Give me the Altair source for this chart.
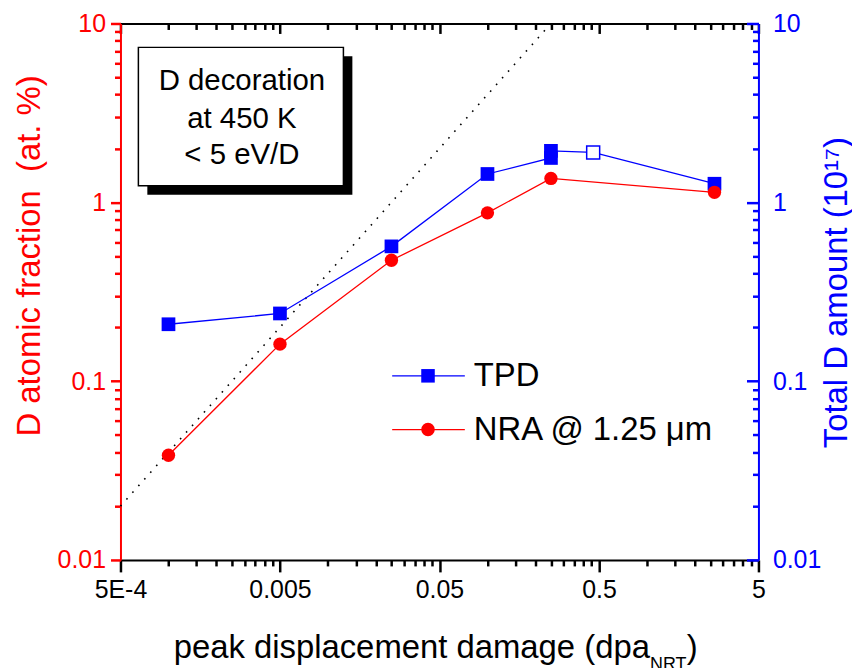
import altair as alt
import pandas as pd

# ---------------- data ----------------
nra_dpa = [0.001, 0.005, 0.025, 0.1, 0.25, 2.65]
nra_frac = [0.0385, 0.161, 0.474, 0.873, 1.36, 1.137]

tpd_dpa = [0.001, 0.005, 0.025, 0.1, 0.25, 0.25, 0.46, 2.65]
tpd_amount = [0.208, 0.239, 0.567, 1.44, 1.77, 1.94, 1.90, 1.27]
tpd_open = [False, False, False, False, False, False, True, False]

guide_dpa = [0.0005, 0.25]
guide_val = [0.02, 10.0]

x_major = [0.0005, 0.005, 0.05, 0.5, 5]
x_major_labels = ["5E-4", "0.005", "0.05", "0.5", "5"]
y_major = [0.01, 0.1, 1, 10]
y_major_labels = ["0.01", "0.1", "1", "10"]
minor_mult = [2, 3, 4, 5, 6, 7, 8, 9]

legend_labels = ["TPD", "NRA @ 1.25 \u03bcm"]
legend_colors = ["#0000FF", "#FF0000"]
legend_shapes = ["square", "circle"]

box_lines = ["D decoration", "at 450 K", "< 5 eV/D"]
x_title_parts = ["peak displacement damage (dpa", "NRT", ")"]
y_left_title = "D atomic fraction\u00a0 (at. %)"
y_right_title = "Total D amount (10\u00b9\u2077)"

# ---------------- layout ----------------
W, H = 641, 539
FONT = "Liberation Sans, Arial, Helvetica, sans-serif"
RED, BLUE = "#FF0000", "#0000FF"
TW = 2.5

x_minor = [round(m * n, 12) for m in x_major[:-1] for n in minor_mult]
y_minor = [round(m * n, 12) for m in y_major[:-1] for n in minor_mult]


def label_expr(vals, labels):
    expr = "''"
    for v, l in reversed(list(zip(vals, labels))):
        expr = f"datum.value == {v!r} ? '{l}' : ({expr})"
    return expr


XS = alt.Scale(type="log", domain=[5e-4, 5], nice=False)
YS = alt.Scale(type="log", domain=[0.01, 10], nice=False)


def tick_axis(orient, vals, size, color, offset=0, domain=False, domain_color="black"):
    return alt.Axis(orient=orient, offset=offset, values=vals, labels=False, ticks=True,
                    tickSize=size, tickColor=color, tickWidth=TW, tickOpacity=1,
                    domain=domain, domainColor=domain_color, domainWidth=2,
                    grid=False, title=None)


ax_bottom = alt.Axis(orient="bottom", values=x_major, labelExpr=label_expr(x_major, x_major_labels),
                     ticks=True, tickSize=12, tickColor="black", tickWidth=TW, tickOpacity=1,
                     domainColor="black", domainWidth=2, labelFont=FONT, labelFontSize=25,
                     labelColor="black", labelPadding=6, labelFlush=False, labelOverlap=False,
                     grid=False, title=None)
ax_left = alt.Axis(orient="left", values=y_major, labelExpr=label_expr(y_major, y_major_labels),
                   ticks=True, tickSize=10, tickColor=RED, tickWidth=TW, tickOpacity=1,
                   domainColor=RED, domainWidth=2, labelColor=RED, labelFont=FONT,
                   labelFontSize=25, labelPadding=5, labelFlush=False, labelOverlap=False,
                   grid=False, title=y_left_title, titleColor=RED, titleFont=FONT,
                   titleFontSize=33, titleFontWeight="normal", titleAngle=270,
                   titleX=-81, titleY=233, titleAlign="center", titleBaseline="alphabetic")
ax_right = alt.Axis(orient="right", values=y_major, labelExpr=label_expr(y_major, y_major_labels),
                    ticks=False, domainColor=BLUE, domainWidth=2, labelColor=BLUE, labelFont=FONT,
                    labelFontSize=25, labelPadding=14, labelFlush=False, labelOverlap=False,
                    grid=False, title=y_right_title, titleColor=BLUE, titleFont=FONT,
                    titleFontSize=33, titleFontWeight="normal", titleAngle=270,
                    titleX=88, titleY=270, titleAlign="center", titleBaseline="alphabetic")

extra_axes = [
    (tick_axis("bottom", x_minor, 6, "black"), tick_axis("left", y_minor, 6, RED)),
    (tick_axis("bottom", x_major, 10, "black", offset=-H, domain=True),
     tick_axis("left", y_major, 12, BLUE, offset=-W)),
    (tick_axis("bottom", x_minor, 6, "black", offset=-H),
     tick_axis("left", y_minor, 6, BLUE, offset=-W)),
]

nra_df = pd.DataFrame({"dpa": nra_dpa, "v": nra_frac})
tpd_df = pd.DataFrame({"dpa": tpd_dpa, "v": tpd_amount, "open": tpd_open,
                       "order": list(range(len(tpd_dpa)))})
guide_df = pd.DataFrame({"dpa": guide_dpa, "v": guide_val})

layers = []

# dotted guide line
layers.append(alt.Chart(guide_df).mark_line(color="black", strokeDash=[1.6, 7.4], strokeWidth=1.6).encode(
    x=alt.X("dpa:Q", scale=XS, axis=None), y=alt.Y("v:Q", scale=YS, axis=None)))

# TPD line
layers.append(alt.Chart(tpd_df).mark_line(color=BLUE, strokeWidth=1.3).encode(
    x=alt.X("dpa:Q", scale=XS, axis=None), y=alt.Y("v:Q", scale=YS, axis=ax_right),
    order="order:Q"))

# NRA line
layers.append(alt.Chart(nra_df).mark_line(color=RED, strokeWidth=1.3).encode(
    x=alt.X("dpa:Q", scale=XS, axis=ax_bottom), y=alt.Y("v:Q", scale=YS, axis=ax_left)))

# TPD squares
layers.append(alt.Chart(tpd_df).transform_filter("!datum.open").mark_point(
    shape="square", filled=True, size=190, color=BLUE, opacity=1).encode(
    x=alt.X("dpa:Q", scale=XS, axis=None), y=alt.Y("v:Q", scale=YS, axis=None)))
layers.append(alt.Chart(tpd_df).transform_filter("datum.open").mark_point(
    shape="square", filled=True, fill="white", stroke=BLUE, strokeWidth=1.5, size=170, opacity=1).encode(
    x=alt.X("dpa:Q", scale=XS, axis=None), y=alt.Y("v:Q", scale=YS, axis=None)))

# NRA circles
layers.append(alt.Chart(nra_df).mark_point(shape="circle", filled=True, size=180, color=RED, opacity=1).encode(
    x=alt.X("dpa:Q", scale=XS, axis=None), y=alt.Y("v:Q", scale=YS, axis=None)))

# axes that only carry the minor / mirrored ticks (their own marks are invisible)
for ax_x, ax_y in extra_axes:
    layers.append(alt.Chart(nra_df).mark_point(size=1, opacity=0).encode(
        x=alt.X("dpa:Q", scale=XS, axis=ax_x), y=alt.Y("v:Q", scale=YS, axis=ax_y)))

one = pd.DataFrame({"k": [0]})

# text box with shadow
layers.append(alt.Chart(one).mark_rect(color="black").encode(
    x=alt.value(27), x2=alt.value(233), y=alt.value(33), y2=alt.value(172)))
layers.append(alt.Chart(one).mark_rect(fill="white", stroke="black", strokeWidth=1.5).encode(
    x=alt.value(18), x2=alt.value(224), y=alt.value(24), y2=alt.value(163)))
box_base = [67, 105, 141]
for line, yb in zip(box_lines, box_base):
    layers.append(alt.Chart(one).mark_text(font=FONT, fontSize=29.5, color="black", align="center",
                                           baseline="alphabetic").encode(
        x=alt.value(122), y=alt.value(yb), text=alt.value(line)))

# legend
leg_line_y = [354, 408]
leg_text_y = [364, 418]
for lab, col, shp, ly, ty in zip(legend_labels, legend_colors, legend_shapes, leg_line_y, leg_text_y):
    layers.append(alt.Chart(one).mark_rule(color=col, strokeWidth=1.2).encode(
        x=alt.value(273), x2=alt.value(346), y=alt.value(ly)))
    layers.append(alt.Chart(one).mark_point(shape=shp, filled=True, size=185, color=col, opacity=1).encode(
        x=alt.value(309), y=alt.value(ly)))
    layers.append(alt.Chart(one).mark_text(font=FONT, fontSize=33, color="black", align="left",
                                           baseline="alphabetic").encode(
        x=alt.value(355), y=alt.value(ty), text=alt.value(lab)))

# x-axis title with subscript
layers.append(alt.Chart(one).mark_text(font=FONT, fontSize=33, color="black", align="right",
                                       baseline="alphabetic").encode(
    x=alt.value(532), y=alt.value(638), text=alt.value(x_title_parts[0])))
layers.append(alt.Chart(one).mark_text(font=FONT, fontSize=18, color="black", align="left",
                                       baseline="alphabetic").encode(
    x=alt.value(532), y=alt.value(650), text=alt.value(x_title_parts[1])))
layers.append(alt.Chart(one).mark_text(font=FONT, fontSize=33, color="black", align="left",
                                       baseline="alphabetic").encode(
    x=alt.value(569), y=alt.value(638), text=alt.value(x_title_parts[2])))

chart = alt.layer(*layers).resolve_axis(x="independent", y="independent").properties(
    width=W, height=H,
    padding={"left": 113, "top": 14, "right": 94, "bottom": 107},
    autosize=alt.AutoSizeParams(type="none"),
).configure_view(stroke=None).configure(font=FONT)

chart.save("out.html", embed_options={"renderer": "svg", "actions": False})
